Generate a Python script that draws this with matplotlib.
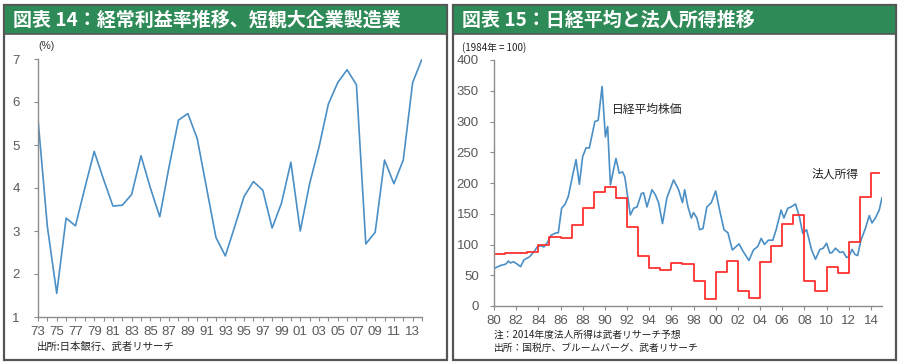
import matplotlib
matplotlib.use("Agg")
import matplotlib.pyplot as plt
from matplotlib.patches import Rectangle
from matplotlib.ticker import MultipleLocator, FixedLocator, FuncFormatter

# --- data: 図表14 経常利益率 (短観大企業製造業), 1973-2014 ---
years14 = list(range(1973, 2015))
margin14 = [5.6, 3.1, 1.55, 3.3, 3.12, 4.0, 4.85, 4.2, 3.58, 3.6,
            3.85, 4.75, 4.0, 3.33, 4.5, 5.58, 5.73, 5.15, 4.0, 2.85,
            2.42, 3.1, 3.8, 4.15, 3.95, 3.07, 3.65, 4.6, 3.0, 4.1,
            4.95, 5.95, 6.45, 6.75, 6.4, 2.7, 2.97, 4.65, 4.1, 4.65,
            6.45, 7.0]

# --- data: 図表15 日経平均 (1984=100) ---
nikkei_t = [1980.0, 1980.6, 1981.05, 1981.3, 1981.5, 1981.75, 1982.1, 1982.4,
            1982.7, 1983.2, 1983.6, 1983.9, 1984.2, 1984.5, 1984.85, 1985.15,
            1985.6, 1985.8, 1986.1, 1986.4, 1986.7, 1987.1, 1987.4, 1987.7,
            1988.0, 1988.3, 1988.6, 1989.1, 1989.4, 1989.75, 1990.05, 1990.25,
            1990.5, 1991.0, 1991.3, 1991.6, 1991.8, 1992.3, 1992.6, 1992.9,
            1993.3, 1993.5, 1993.8, 1994.25, 1994.55, 1994.85, 1995.2, 1995.6,
            1996.2, 1996.65, 1997.0, 1997.2, 1997.5, 1997.8, 1998.0, 1998.3,
            1998.55, 1998.85, 1999.2, 1999.6, 2000.0, 2000.35, 2000.75, 2001.1,
            2001.5, 2001.8, 2002.1, 2002.5, 2003.0, 2003.4, 2003.8, 2004.1,
            2004.4, 2004.75, 2005.15, 2005.45, 2005.9, 2006.15, 2006.5, 2006.8,
            2007.2, 2007.55, 2007.85, 2008.2, 2008.65, 2009.0, 2009.4, 2009.7,
            2010.0, 2010.3, 2010.5, 2010.8, 2011.2, 2011.5, 2011.8, 2012.0,
            2012.3, 2012.55, 2012.8, 2013.1, 2013.5, 2013.85, 2014.1, 2014.4,
            2014.75, 2015.0]
nikkei_v = [61, 66, 68, 73, 70, 72, 68, 64,
            75, 80, 88, 96, 98, 96, 104, 115,
            119, 119, 159, 165, 178, 213, 238, 198,
            243, 257, 257, 300, 302, 357, 275, 292,
            197, 240, 216, 218, 210, 148, 159, 161,
            183, 184, 161, 189, 181, 168, 134, 176,
            205, 189, 168, 189, 161, 143, 152, 143,
            124, 126, 161, 168, 187, 156, 124, 119,
            91, 96, 101, 88, 74, 91, 97, 110,
            100, 107, 107, 124, 156, 143, 159, 161,
            166, 145, 118, 124, 91, 76, 92, 94,
            102, 86, 87, 94, 87, 88, 79, 80,
            92, 84, 82, 107, 126, 147, 135, 143,
            156, 176]

# --- data: 法人所得 (年度, 1984=100) ---
corp_years = list(range(1980, 2015))
corp_v = [84, 86, 86, 88, 100, 113, 110, 132, 160, 186,
          193, 176, 129, 82, 62, 59, 70, 69, 40, 11,
          56, 73, 24, 13, 72, 98, 133, 148, 40, 25,
          63, 53, 104, 178, 216]
corp_end = 2014.7

W, H = 900, 364
fig = plt.figure(figsize=(W / 100, H / 100), dpi=100)

jp = ['Noto Sans CJK JP', 'DejaVu Sans']
num = ['Liberation Sans', 'DejaVu Sans']
green = '#2e8b57'
grey_txt = '#595959'
axis_col = '#8c8c8c'
blue = '#4a8fc6'
red = '#ff3030'


def fx(px):
    return px / W


def fy(py):
    return 1 - py / H


# panels: border + green header
for x0, x1, title in [(4, 447, '図表 14：経常利益率推移、短観大企業製造業'),
                      (453, 896, '図表 15：日経平均と法人所得推移')]:
    fig.add_artist(Rectangle((fx(x0), fy(360)), fx(x1 - x0), (360 - 5) / H,
                             transform=fig.transFigure, facecolor='white',
                             edgecolor='#555555', lw=1.6, zorder=0))
    fig.add_artist(Rectangle((fx(x0), fy(34)), fx(x1 - x0), (34 - 5) / H,
                             transform=fig.transFigure, facecolor=green,
                             edgecolor='#555555', lw=1.2, zorder=1))
    fig.text(fx(x0 + 9), fy(20), title, color='white', fontsize=13.7,
             fontweight='bold', family=jp, va='center', ha='left', zorder=2)


def style_axes(ax):
    for s in ['top', 'right']:
        ax.spines[s].set_visible(False)
    for s in ['left', 'bottom']:
        ax.spines[s].set_color(axis_col)
        ax.spines[s].set_linewidth(1.0)
    ax.tick_params(colors=axis_col, labelcolor=grey_txt, labelsize=9.5,
                   length=3, width=0.8, direction='out')
    ax.tick_params(which='minor', colors=axis_col, length=3, width=0.8)
    for lab in ax.get_xticklabels() + ax.get_yticklabels():
        lab.set_family(num)
    ax.patch.set_alpha(0)


yr_fmt = FuncFormatter(lambda v, p: '%02d' % (int(round(v)) % 100))

# --- left chart ---
ax1 = fig.add_axes([fx(38), fy(317), fx(422 - 38), (317 - 59) / H])
ax1.plot(years14, margin14, color=blue, lw=1.2)
ax1.set_xlim(1973, 2014)
ax1.set_ylim(1, 7)
ax1.xaxis.set_major_locator(FixedLocator(years14[::2]))
ax1.xaxis.set_minor_locator(MultipleLocator(1))
ax1.xaxis.set_major_formatter(yr_fmt)
ax1.yaxis.set_major_locator(MultipleLocator(1))
style_axes(ax1)
ax1.tick_params(axis='y', pad=10)
ax1.text(fx(38), fy(46), '(%)', transform=fig.transFigure, fontsize=7.5,
         color='#333333', family=num, ha='left', va='center')
fig.text(fx(37), fy(347), '出所:日本銀行、武者リサーチ', fontsize=7.5,
         family=jp, color='#222222', va='center', ha='left')

# --- right chart ---
ax2 = fig.add_axes([fx(494), fy(306), fx(882 - 494), (306 - 60) / H])
ax2.plot(nikkei_t, nikkei_v, color=blue, lw=1.2)
ax2.step(corp_years + [corp_end], corp_v + [corp_v[-1]], where='post',
         color=red, lw=1.3)
ax2.set_xlim(1980, 2015)
ax2.set_ylim(0, 400)
ax2.xaxis.set_major_locator(MultipleLocator(2))
ax2.xaxis.set_major_formatter(yr_fmt)
ax2.yaxis.set_major_locator(MultipleLocator(50))
style_axes(ax2)
ax2.tick_params(axis='y', pad=8)
ax2.text(1990.6, 320, '日経平均株価', fontsize=8.5, family=jp, color='#222222',
         va='center', ha='left')
ax2.text(2012.85, 214, '法人所得', fontsize=8.5, family=jp, color='#222222',
         va='center', ha='right')
fig.text(fx(462), fy(48), '(1984年 = 100)', fontsize=7, family=jp,
         color='#222222', va='center', ha='left')
fig.text(fx(494), fy(335), '注：2014年度法人所得は武者リサーチ予想', fontsize=7,
         family=jp, color='#222222', va='center', ha='left')
fig.text(fx(494), fy(348), '出所：国税庁、ブルームバーグ、武者リサーチ', fontsize=7,
         family=jp, color='#222222', va='center', ha='left')

fig.savefig('out.png', dpi=100, facecolor='white')
